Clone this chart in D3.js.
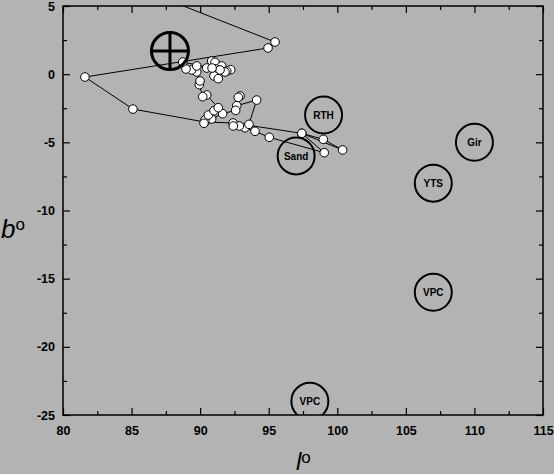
<!DOCTYPE html>
<html>
<head>
<meta charset="utf-8">
<script src="https://cdn.jsdelivr.net/npm/d3@7"></script>
<style>
  html, body { margin: 0; padding: 0; background: #b3b3b3; }
  svg { display: block; }
</style>
</head>
<body>
<script>
// ---- data ----
const pathL = [86.0, 95.46, 94.95, 81.60, 85.10, 90.35, 92.40, 97.41, 98.98, 100.39, 97.41, 99.05, 95.04, 94.00,
  93.27, 92.86, 92.42, 93.56, 94.12, 92.67, 92.91, 92.78, 92.59, 91.64, 90.84, 90.35, 90.28, 90.60, 91.01, 91.32,
  90.48, 90.19, 89.94, 89.99, 89.75, 89.38, 88.97, 89.75, 90.48, 90.84, 91.08, 91.57, 92.23, 91.94, 91.81, 91.16,
  91.01, 91.32, 91.45, 90.87, 88.73];
const pathB = [6.1, 2.36, 1.92, -0.21, -2.56, -3.51, -3.58, -4.34, -4.78, -5.56, -4.34, -5.76, -4.63, -4.19,
  -3.93, -3.80, -3.80, -3.68, -1.90, -2.31, -1.60, -1.70, -2.65, -2.90, -3.29, -3.36, -3.60, -3.00, -2.68, -2.46,
  -1.53, -1.65, -0.77, -0.50, 0.16, 0.31, 0.38, 0.60, 0.45, 0.97, 0.87, 0.60, 0.33, 0.23, 0.16, 0.38,
  -0.13, -0.33, 0.31, 0.45, 0.89];
const groupNames = ["RTH", "Sand", "Gir", "YTS", "VPC", "VPC"];
const groupL = [99, 97, 110, 107, 107, 98];
const groupB = [-3, -6, -5, -8, -16, -24];
const sunL = [87.8];
const sunB = [1.7];
const xTicks = [80, 85, 90, 95, 100, 105, 110, 115];
const yTicks = [-25, -20, -15, -10, -5, 0, 5];
const xMinor = [82.5, 87.5, 92.5, 97.5, 102.5, 107.5, 112.5];
const yMinor = [-22.5, -17.5, -12.5, -7.5, -2.5, 2.5];

// ---- drawing ----
const W = 554, H = 474;
const L = 63, R = 543, T = 6, B = 415;
const svg = d3.select("body").append("svg").attr("width", W).attr("height", H);
svg.append("rect").attr("width", W).attr("height", H).attr("fill", "#b3b3b3");

const x = d3.scaleLinear().domain([80, 115]).range([L, R]);
const y = d3.scaleLinear().domain([-25, 5]).range([B, T]);

svg.append("clipPath").attr("id", "clip").append("rect")
  .attr("x", L).attr("y", T).attr("width", R - L).attr("height", B - T);
const plot = svg.append("g").attr("clip-path", "url(#clip)");

const pts = pathL.map((l, i) => [l, pathB[i]]);
plot.append("path").datum(pts)
  .attr("fill", "none").attr("stroke", "#000").attr("stroke-width", 1)
  .attr("d", d3.line().x(d => x(d[0])).y(d => y(d[1])));
plot.selectAll("circle.pt").data(pts).enter().append("circle")
  .attr("class", "pt")
  .attr("cx", d => x(d[0])).attr("cy", d => y(d[1])).attr("r", 4.3)
  .attr("fill", "#fff").attr("stroke", "#000").attr("stroke-width", 1);

// groups
const grp = plot.selectAll("g.grp").data(groupNames.map((n, i) => ({n, l: groupL[i], b: groupB[i]})))
  .enter().append("g").attr("class", "grp")
  .attr("transform", d => `translate(${x(d.l)},${y(d.b)})`);
grp.append("circle").attr("r", 18.5).attr("fill", "none").attr("stroke", "#000").attr("stroke-width", 2);
grp.append("text").text(d => d.n)
  .attr("text-anchor", "middle").attr("dy", "0.36em")
  .attr("font-family", "Liberation Sans, Arial, sans-serif").attr("font-weight", "bold")
  .attr("font-size", 10).attr("fill", "#000");

// sun symbol
const sun = plot.append("g").attr("transform", `translate(${x(sunL[0])},${y(sunB[0])})`);
sun.append("circle").attr("r", 18.5).attr("fill", "none").attr("stroke", "#000").attr("stroke-width", 3);
sun.append("line").attr("x1", 0).attr("x2", 0).attr("y1", -19).attr("y2", 20).attr("stroke", "#000").attr("stroke-width", 3);
sun.append("line").attr("x1", -19).attr("x2", 19).attr("y1", 0).attr("y2", 0).attr("stroke", "#000").attr("stroke-width", 3);

// axes
const fmt = d => String(d);
const tickFont = g => g.selectAll("text")
  .attr("font-family", "Liberation Sans, Arial, sans-serif")
  .attr("font-weight", "bold").attr("font-size", 12.5).attr("fill", "#000");
const clean = g => { g.select(".domain").remove(); g.selectAll("line").attr("stroke", "#000").attr("stroke-width", 1.2); };

svg.append("g").attr("transform", `translate(0,${B})`)
  .call(d3.axisBottom(x).tickValues(xTicks).tickSize(-7).tickPadding(11).tickFormat(fmt))
  .call(clean).call(tickFont);
svg.append("g").attr("transform", `translate(0,${B})`)
  .call(d3.axisBottom(x).tickValues(xMinor).tickSize(-4).tickFormat(""))
  .call(clean);
svg.append("g").attr("transform", `translate(0,${T})`)
  .call(d3.axisTop(x).tickValues(xTicks).tickSize(-7).tickFormat(""))
  .call(clean);
svg.append("g").attr("transform", `translate(0,${T})`)
  .call(d3.axisTop(x).tickValues(xMinor).tickSize(-4).tickFormat(""))
  .call(clean);

svg.append("g").attr("transform", `translate(${L},0)`)
  .call(d3.axisLeft(y).tickValues(yTicks).tickSize(-7).tickPadding(8).tickFormat(fmt))
  .call(clean).call(tickFont);
svg.append("g").attr("transform", `translate(${L},0)`)
  .call(d3.axisLeft(y).tickValues(yMinor).tickSize(-4).tickFormat(""))
  .call(clean);
svg.append("g").attr("transform", `translate(${R},0)`)
  .call(d3.axisRight(y).tickValues(yTicks).tickSize(-7).tickFormat(""))
  .call(clean);
svg.append("g").attr("transform", `translate(${R},0)`)
  .call(d3.axisRight(y).tickValues(yMinor).tickSize(-4).tickFormat(""))
  .call(clean);

// frame
svg.append("rect").attr("x", L).attr("y", T).attr("width", R - L).attr("height", B - T)
  .attr("fill", "none").attr("stroke", "#000").attr("stroke-width", 1.5);

// axis titles
const xt = svg.append("text").attr("x", 296).attr("y", 470)
  .attr("font-family", "Liberation Sans, Arial, sans-serif").attr("fill", "#000");
xt.append("tspan").text("l").attr("font-style", "italic").attr("font-size", 24);
xt.append("tspan").text("o").attr("font-size", 17).attr("dy", -7);

const yt = svg.append("text").attr("x", 1).attr("y", 238)
  .attr("font-family", "Liberation Sans, Arial, sans-serif").attr("fill", "#000");
yt.append("tspan").text("b").attr("font-style", "italic").attr("font-size", 26);
yt.append("tspan").text("o").attr("font-size", 17).attr("dy", -8);
</script>
</body>
</html>
